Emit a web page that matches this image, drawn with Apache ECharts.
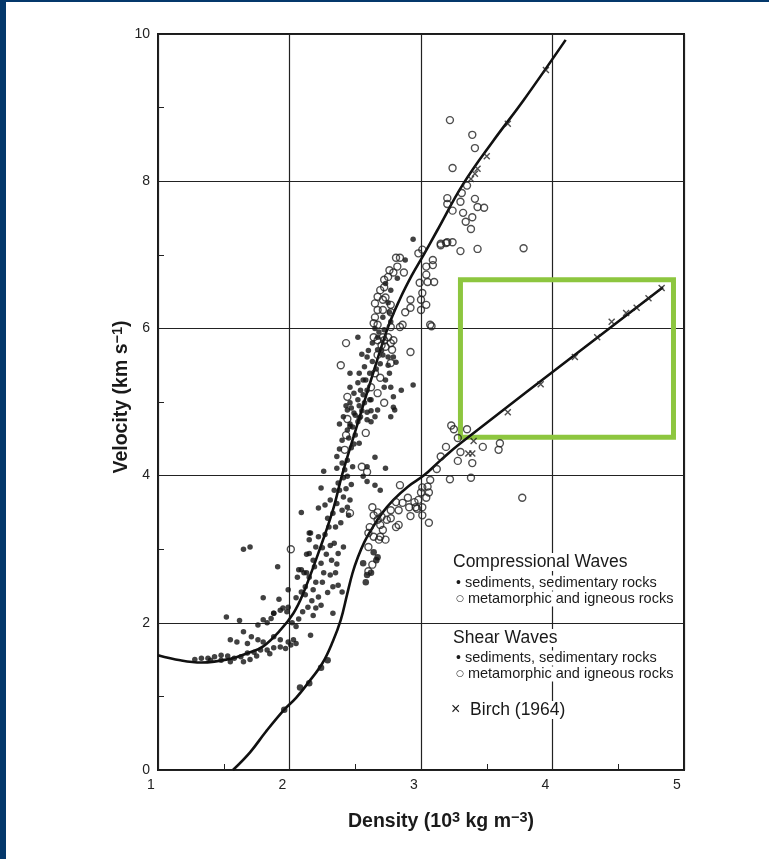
<!DOCTYPE html>
<html>
<head>
<meta charset="utf-8">
<script src="https://cdn.jsdelivr.net/npm/echarts@6/dist/echarts.min.js"></script>
<style>
html,body{margin:0;padding:0;background:#fff;}
#chart{width:769px;height:859px;}
#barL{position:absolute;left:0;top:0;width:6px;height:859px;background:#04386b;}
#barT{position:absolute;left:0;top:0;width:769px;height:2px;background:#04386b;}
</style>
</head>
<body>
<div id="chart"></div>
<div id="barL"></div><div id="barT"></div>
<script>
// ---- Data (density in 10^3 kg m^-3, velocity in km/s) ----
const xTicks = [1, 2, 3, 4, 5];
const yTicks = [0, 2, 4, 6, 8, 10];

// Nafe-Drake compressional wave curve
const pCurve = [[1.00,1.56],[1.17,1.49],[1.33,1.46],[1.55,1.51],[1.70,1.60],[1.80,1.68],[1.93,1.90],[2.03,2.13],[2.10,2.38],[2.22,2.95],[2.33,3.53],[2.40,4.01],[2.50,4.60],[2.62,5.30],[2.75,6.02],[2.84,6.40],[2.93,6.72],[3.02,7.00],[3.12,7.32],[3.32,7.96],[3.55,8.55],[3.78,9.10],[4.10,9.92]];
// shear wave curve
const sCurve = [[1.57,0.00],[1.70,0.24],[1.82,0.52],[1.96,0.82],[2.05,0.98],[2.14,1.18],[2.25,1.45],[2.33,1.75],[2.39,2.04],[2.44,2.40],[2.48,2.68],[2.52,2.89],[2.57,3.10],[2.62,3.26],[2.70,3.48],[2.79,3.67],[2.90,3.85],[3.02,4.00],[3.15,4.21],[3.30,4.44],[4.84,6.56]];

// Compressional waves: sediments, sedimentary rocks (filled)
const pSed = [
[1.52,2.08],[1.62,2.03],[1.76,1.97],[1.80,2.04],[1.83,2.00],[1.88,2.13],[1.93,2.17],[1.99,2.21],
[1.65,1.88],[1.71,1.81],[1.55,1.77],[1.60,1.74],[1.68,1.72],[1.76,1.77],[1.80,1.74],[1.88,1.81],[1.93,1.77],[1.99,1.74],[2.03,1.77],
[1.33,1.52],[1.38,1.52],[1.43,1.54],[1.48,1.56],[1.53,1.55],[1.58,1.52],[1.63,1.54],[1.68,1.59],[1.73,1.60],[1.78,1.63],[1.83,1.63],[1.88,1.66],[1.93,1.67],
[1.55,1.47],[1.65,1.47],[1.48,1.49],[1.28,1.50],[1.40,1.49],[1.70,1.50],[1.75,1.55],[1.85,1.58],
[2.16,1.83],[2.14,2.21],[2.24,2.24],[2.33,2.13],[2.18,2.10],
[2.09,3.50],[1.65,3.00],[1.70,3.03],[1.91,2.76],[2.13,2.93],[2.15,3.22],[1.80,2.34],[1.92,2.32],[1.99,2.45],[1.95,2.20],[1.98,2.15],[2.06,2.62],[2.07,2.72],[2.11,2.68],[2.05,2.34],[1.88,2.13],[1.86,2.06],
[2.02,2.00],[2.07,2.05],[2.10,2.15],[2.05,1.95],[2.12,2.38],[2.18,2.45],[2.20,2.55],[2.22,2.35],[2.15,2.62],[2.01,1.70],[2.05,1.72],[1.97,1.65],
[2.26,4.06],[2.24,3.83],[2.22,3.56],[2.27,3.60],[2.29,3.42],[2.16,3.22],[2.15,3.13],[2.22,3.17],[2.20,3.03],[2.25,3.02],[2.15,2.94],[2.18,2.85],[2.09,2.72],[2.13,2.68],[2.19,2.76],[2.24,2.81],[2.26,2.68],[2.31,2.65],[2.35,2.68],[2.37,2.51],[2.40,2.42],[2.33,2.49],[2.29,2.41],[2.12,2.49],[2.09,2.42],
[2.41,3.03],[2.37,2.94],[2.34,3.08],[2.41,3.71],[2.44,3.57],[2.46,3.67],[2.40,3.53],[2.33,3.49],[2.35,3.30],[2.39,3.36],[2.45,3.46],[2.31,3.67],[2.34,3.80],[2.37,3.90],[2.41,3.97],[2.44,3.99],[2.56,3.99],[2.59,3.92],[2.65,3.87],[2.69,3.80],[2.73,4.10],[2.65,4.25],[2.59,4.12],[2.48,4.12],[2.44,4.21],[2.40,4.17],[2.36,4.10],[2.38,4.36],[2.49,4.43],[2.45,4.51],[2.53,4.44],[2.48,4.66],[2.53,4.78],[2.50,4.82],[2.53,4.95],[2.55,4.88],[2.59,4.86],[2.61,5.03],[2.79,4.93],[2.46,4.70],[2.44,4.62],[2.40,4.48],[2.36,4.26],
[2.38,4.70],[2.41,4.80],[2.43,4.95],[2.47,4.92],[2.50,4.55],[2.47,4.38],[2.42,4.08],[2.38,3.80],[2.43,3.82],[2.47,3.88],[2.36,3.62],[2.30,3.30],[2.27,3.20],[2.31,3.05],[2.28,2.93],[2.32,2.85],[2.36,2.80],[2.25,2.55],[2.17,2.30],[2.20,2.20],
[2.56,5.10],[2.58,5.30],[2.63,5.55],[2.66,5.45],[2.69,5.52],[2.70,5.70],[2.60,5.70],[2.55,5.65],[2.65,6.00],[2.68,5.95],
[2.94,7.21],[2.88,6.93],[2.82,6.68],[2.73,6.61],[2.77,6.52],[2.75,6.35],[2.76,6.22],[2.71,6.15],[2.77,6.09],[2.72,5.98],[2.67,5.88],[2.52,5.88],[2.63,5.80],[2.67,5.71],[2.71,5.64],[2.75,5.61],[2.79,5.61],[2.81,5.54],[2.75,5.50],[2.76,5.39],[2.73,5.30],[2.72,5.20],[2.77,5.20],[2.79,5.07],[2.59,5.61],[2.57,5.48],[2.61,5.39],[2.53,5.39],[2.46,5.39],[2.56,5.30],[2.52,5.26],[2.46,5.20],[2.49,5.12],[2.54,5.16],[2.59,5.16],[2.62,5.03],[2.52,5.03],[2.57,4.99],[2.46,4.99],[2.44,4.89],[2.49,4.85],[2.54,4.80],[2.59,4.76],[2.52,4.73],[2.46,4.67],[2.62,4.73],[2.65,4.80],[2.67,4.89],[2.62,4.88],[2.94,5.23],[2.85,5.16],[2.80,4.89],[2.77,4.80]
];

// Compressional waves: metamorphic and igneous rocks (open)
const pIgn = [
[3.15,7.13],[3.20,7.17],[2.98,7.02],[3.01,7.07],[3.04,6.84],[3.09,6.93],[3.09,6.86],[3.04,6.73],[3.05,6.63],[3.10,6.63],[2.99,6.62],[3.01,6.48],[3.00,6.39],[3.04,6.32],[3.07,6.05],
[2.81,6.96],[2.84,6.96],[2.82,6.84],[2.87,6.76],[2.79,6.76],[2.75,6.70],[2.72,6.66],[2.76,6.79],[2.72,6.56],[2.69,6.52],[2.67,6.43],[2.71,6.39],[2.73,6.42],[2.65,6.34],[2.67,6.25],[2.71,6.25],[2.65,6.15],[2.64,6.07],[2.67,6.05],[2.77,6.32],[2.77,6.22],[2.88,6.22],[2.92,6.28],[2.86,6.05],[2.84,6.02],[2.77,6.02],[2.92,6.39],[3.00,6.25],
[2.64,5.88],[2.67,5.84],[2.71,5.88],[2.72,5.84],[2.75,5.88],[2.77,5.80],[2.79,5.84],[2.78,5.71],[2.73,5.75],[2.70,5.77],[2.43,5.80],[2.92,5.68],[2.39,5.50],[2.67,5.64],[2.77,5.53],[2.44,5.07],[2.67,5.12],[2.72,4.99],[2.62,5.20],[2.65,5.39],[2.69,5.33],
[2.46,3.49],[2.01,3.00],[2.44,4.77],[2.43,4.55],[2.42,4.35],[2.55,4.12],[2.59,4.05],[2.58,4.58],
[3.22,8.83],[3.39,8.63],[3.41,8.45],[3.24,8.18],[3.20,7.77],[3.20,7.69],[3.30,7.72],[3.41,7.76],[3.43,7.65],[3.48,7.64],[3.24,7.60],[3.32,7.57],[3.39,7.51],[3.34,7.45],[3.38,7.35],[3.15,7.15],[3.19,7.16],[3.24,7.17],[3.30,7.05],[3.43,7.08],[3.78,7.09],[3.31,7.84],[3.35,7.94],[3.08,6.03]
];

// Shear waves: sediments, sedimentary rocks (filled)
const sSed = [[1.96,0.82],[2.08,1.12],[2.15,1.18],[2.24,1.39],[2.29,1.49],[2.56,2.81],[2.62,2.68],[2.59,2.65],[2.64,2.96],[2.67,2.89],[2.66,2.85],[2.58,2.55]];

// Shear waves: metamorphic and igneous rocks (open)
const sIgn = [
[3.23,4.68],[3.35,4.63],[3.28,4.51],[3.19,4.39],[3.30,4.32],[3.47,4.39],[3.60,4.44],[3.59,4.35],[3.28,4.20],[3.39,4.17],[3.12,4.09],[3.22,3.95],[3.38,3.97],[3.77,3.70],[2.84,3.87],[3.07,3.94],[3.05,3.85],[3.06,3.77],[3.01,3.84],[3.00,3.77],[3.04,3.70],[2.98,3.67],[2.96,3.57],[3.01,3.57],[2.90,3.70],[2.86,3.63],[2.81,3.64],[2.95,3.64],[2.91,3.57],[2.83,3.53],[2.97,3.55],[2.92,3.45],[3.01,3.46],[3.06,3.36],[2.83,3.33],[2.77,3.53],[2.77,3.42],
[2.63,3.57],[2.67,3.50],[2.64,3.46],[2.67,3.40],[2.70,3.44],[2.74,3.40],[2.69,3.33],[2.60,3.22],[2.64,3.17],[2.69,3.17],[2.73,3.13],[2.68,3.13],[2.60,3.03],[2.63,2.79],[2.60,2.70],[2.81,3.30],[2.71,3.26],[2.61,3.30],[3.15,4.26],[3.25,4.63]
];

// Birch (1964)
const birch = [[3.38,8.03],[3.41,8.10],[3.43,8.17],[3.50,8.34],[3.66,8.78],[3.95,9.51],
[3.36,4.30],[3.39,4.30],[3.40,4.47],[3.66,4.86],[3.91,5.24],[4.17,5.61],[4.34,5.88],[4.45,6.09],[4.56,6.21],[4.64,6.28],[4.73,6.41],[4.83,6.55]];

// highlighted region (density / velocity corners)
const highlightBox = [[3.30, 6.66], [4.92, 4.52]];

const legendLines = [
  'Compressional Waves',
  '{b|•} sediments, sedimentary rocks',
  '{o|○} metamorphic and igneous rocks',
  'Shear Waves',
  '{b|•} sediments, sedimentary rocks',
  '{o|○} metamorphic and igneous rocks',
  '{x|×}  Birch (1964)'
];

// ---- Chart ----
const FONT = '"Liberation Sans", Arial, Helvetica, sans-serif';
const chart = echarts.init(document.getElementById('chart'), null, {renderer: 'canvas'});
const cross = 'path://M0,0L10,10M10,0L0,10';

const legendPos = [
  {x: 451, y: 562, size: 17.5},
  {x: 454, y: 583, size: 14.5},
  {x: 454, y: 599, size: 14.5},
  {x: 451, y: 638, size: 17.5},
  {x: 454, y: 658, size: 14.5},
  {x: 454, y: 674, size: 14.5},
  {x: 449, y: 710, size: 17.5}
];

const titleRich = {
  t: {fontSize: 19.5, fontWeight: 'bold', fontFamily: FONT, color: '#1a1a1a', lineHeight: 22, verticalAlign: 'bottom'},
  s: {fontSize: 14.5, fontWeight: 'bold', fontFamily: FONT, color: '#1a1a1a', lineHeight: 11, verticalAlign: 'top'}
};

const option = {
  backgroundColor: '#fff',
  animation: false,
  grid: {left: 158, right: 85, top: 34, bottom: 89, show: true, borderColor: '#1a1a1a', borderWidth: 2},
  xAxis: {
    type: 'value', min: xTicks[0], max: xTicks[xTicks.length - 1], interval: 1,
    axisLine: {show: false},
    axisTick: {show: true, inside: true, length: 6, lineStyle: {color: '#222'}},
    minorTick: {show: true, splitNumber: 2, length: 6, lineStyle: {color: '#222', width: 1}},
    splitLine: {show: true, lineStyle: {color: '#222', width: 1.2}},
    axisLabel: {color: '#222', fontSize: 14, fontFamily: FONT, margin: 8, padding: [0, 14, 0, 0]},
    name: '{t|Density (10}{s|3}{t| kg m}{s|−3}{t|)}',
    nameLocation: 'middle', nameGap: 40,
    nameTextStyle: {padding: [0, 0, 0, 40], rich: titleRich}
  },
  yAxis: {
    type: 'value', min: yTicks[0], max: yTicks[yTicks.length - 1], interval: 2,
    axisLine: {show: false},
    axisTick: {show: true, inside: true, length: 6, lineStyle: {color: '#222'}},
    minorTick: {show: true, splitNumber: 2, length: 6, lineStyle: {color: '#222', width: 1}},
    splitLine: {show: true, lineStyle: {color: '#222', width: 1.2}},
    axisLabel: {color: '#222', fontSize: 14, fontFamily: FONT, margin: 8},
    name: '{t|Velocity (km s}{s|−1}{t|)}',
    nameLocation: 'middle', nameGap: 26, nameMoveOverlap: false,
    nameTextStyle: {padding: [0, 0, 0, 10], rich: titleRich}
  },
  graphic: legendLines.map((t, i) => ({
    type: 'text', z: 50,
    x: legendPos[i].x, y: legendPos[i].y,
    style: {
      text: t, fill: '#1a1a1a', fontSize: legendPos[i].size, fontFamily: FONT,
      verticalAlign: 'middle', textVerticalAlign: 'middle', backgroundColor: '#fff', padding: [0, 2, 0, 2],
      rich: {
        b: {fontSize: 14, fontFamily: FONT, fill: '#1a1a1a'},
        o: {fontSize: 9, fontFamily: '"DejaVu Sans", sans-serif', fill: '#1a1a1a'},
        x: {fontSize: 16, fontFamily: FONT, fill: '#1a1a1a'}
      }
    }
  })),
  series: [
    {type: 'line', data: pCurve, smooth: 0.4, showSymbol: false, symbol: 'none', z: 3,
     lineStyle: {color: '#111', width: 2.6}},
    {type: 'line', data: sCurve, smooth: 0.4, showSymbol: false, symbol: 'none', z: 3,
     lineStyle: {color: '#111', width: 2.6},
     markArea: {silent: true, itemStyle: {color: 'rgba(0,0,0,0)', borderColor: '#8dc63f', borderWidth: 5},
       data: [[{coord: highlightBox[0]}, {coord: highlightBox[1]}]]}},
    {type: 'scatter', data: pSed, symbol: 'circle', symbolSize: 5.5, z: 4,
     itemStyle: {color: '#111'}},
    {type: 'scatter', data: pIgn, symbol: 'circle', symbolSize: 7, z: 4,
     itemStyle: {color: 'rgba(255,255,255,0)', borderColor: '#222', borderWidth: 1.4}},
    {type: 'scatter', data: sSed, symbol: 'circle', symbolSize: 6.5, z: 4,
     itemStyle: {color: '#111'}},
    {type: 'scatter', data: sIgn, symbol: 'circle', symbolSize: 7, z: 4,
     itemStyle: {color: 'rgba(255,255,255,0)', borderColor: '#222', borderWidth: 1.4}},
    {type: 'scatter', data: birch, symbol: cross, symbolSize: 6, z: 5,
     itemStyle: {color: 'none', borderColor: '#222', borderWidth: 1.4}}
  ]
};
chart.setOption(option);
</script>
</body>
</html>
